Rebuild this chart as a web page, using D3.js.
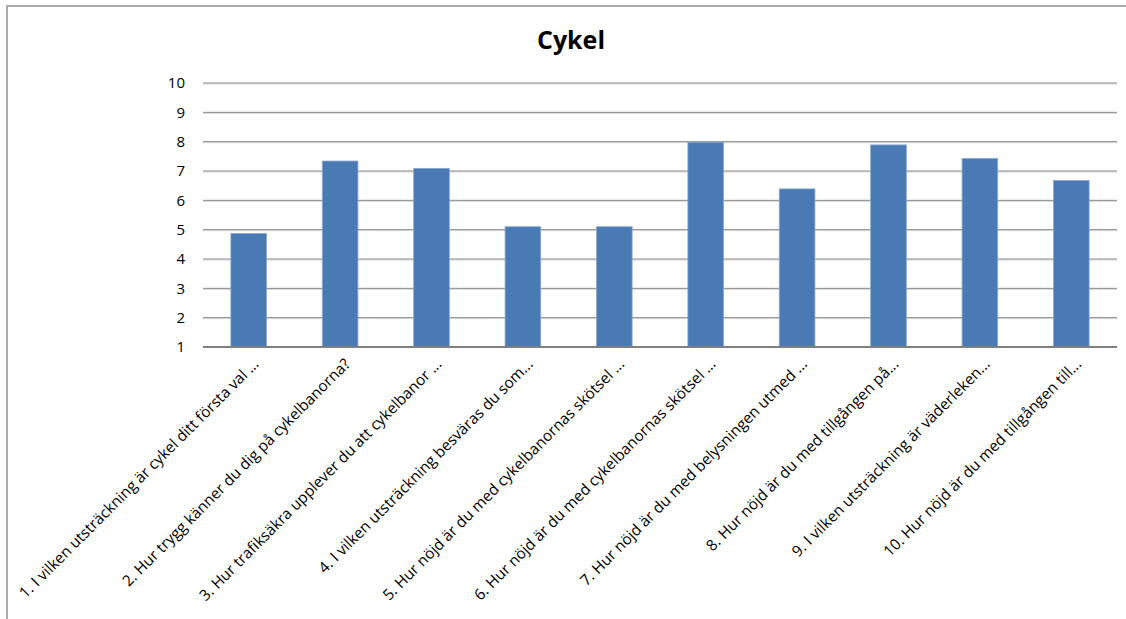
<!DOCTYPE html>
<html>
<head>
<meta charset="utf-8">
<script src="https://cdn.jsdelivr.net/npm/d3@7"></script>
<style>
  html, body { margin: 0; padding: 0; background: #fff; }
  svg { display: block; }
</style>
</head>
<body>
<svg id="chart" width="1126" height="619"></svg>
<script>
const title = "Cykel";
const categories = [
  "1. I vilken utsträckning är cykel ditt första val ...",
  "2. Hur trygg känner du dig på cykelbanorna?",
  "3. Hur trafiksäkra upplever du att cykelbanor ...",
  "4. I vilken utsträckning besväras du som...",
  "5. Hur nöjd är du med cykelbanornas skötsel ...",
  "6. Hur nöjd är du med cykelbanornas skötsel ...",
  "7. Hur nöjd är du med belysningen utmed ...",
  "8. Hur nöjd är du med tillgången på...",
  "9. I vilken utsträckning är väderleken...",
  "10. Hur nöjd är du med tillgången till..."
];
const values = [4.87, 7.34, 7.09, 5.1, 5.1, 7.98, 6.39, 7.89, 7.43, 6.68];
const yTicks = [1, 2, 3, 4, 5, 6, 7, 8, 9, 10];

const svg = d3.select("#chart");
const W = 1126, H = 619;
const m = { left: 203, right: 9, top: 83, bottom: 272 };
const plotW = W - m.left - m.right;
const plotH = H - m.top - m.bottom;
const font = "'Open Sans', 'Noto Sans', sans-serif";

// border
svg.append("path")
  .attr("d", `M7,${H} L7,6 L${W},6`)
  .attr("fill", "none").attr("stroke", "#ababab").attr("stroke-width", 2);

const x = d3.scaleBand().domain(categories).range([m.left, m.left + plotW]).paddingInner(0.61).paddingOuter(0.305);
const y = d3.scaleLinear().domain([1, 10]).range([m.top + plotH, m.top]);

// gridlines
const g = svg.append("g");
yTicks.forEach(t => {
  if (t === 1) return;
  g.append("line").attr("x1", m.left).attr("x2", m.left + plotW)
    .attr("y1", y(t) + 1).attr("y2", y(t) + 1).attr("stroke", "#d9d9d9").attr("stroke-width", 1);
  g.append("line").attr("x1", m.left).attr("x2", m.left + plotW)
    .attr("y1", y(t)).attr("y2", y(t)).attr("stroke", "#868686").attr("stroke-width", 1);
});

// y axis labels
const yAxis = d3.axisLeft(y).tickValues(yTicks).tickSize(0).tickPadding(18).tickFormat(d3.format("d"));
const ya = svg.append("g").attr("transform", `translate(${m.left},0)`).call(yAxis);
ya.select(".domain").remove();
ya.selectAll("text").attr("font-family", font).attr("font-size", 15).attr("fill", "#000");

// bars
svg.append("g").selectAll("rect").data(values).join("rect")
  .attr("x", (d, i) => x(categories[i]))
  .attr("width", x.bandwidth())
  .attr("y", d => y(d))
  .attr("height", d => y(1) - y(d))
  .attr("fill", "#4a7ab4")
  .attr("stroke", "#8aa9d2").attr("stroke-width", 0.8);

// base axis line
svg.append("line").attr("x1", m.left).attr("x2", m.left + plotW)
  .attr("y1", y(1)).attr("y2", y(1)).attr("stroke", "#7f7f7f").attr("stroke-width", 2);

// x labels
svg.append("g").selectAll("text").data(categories).join("text")
  .attr("transform", d => `translate(${x(d) + x.bandwidth() / 2 + 11},${y(1) + 18}) rotate(-45)`)
  .attr("text-anchor", "end")
  .attr("font-family", font)
  .attr("font-size", 15.3)
  .attr("fill", "#000")
  .text(d => d);

// title
svg.append("text").attr("x", 571).attr("y", 49).attr("text-anchor", "middle")
  .attr("font-family", font).attr("font-weight", "bold")
  .attr("font-size", 25).attr("fill", "#000").text(title);
</script>
</body>
</html>
